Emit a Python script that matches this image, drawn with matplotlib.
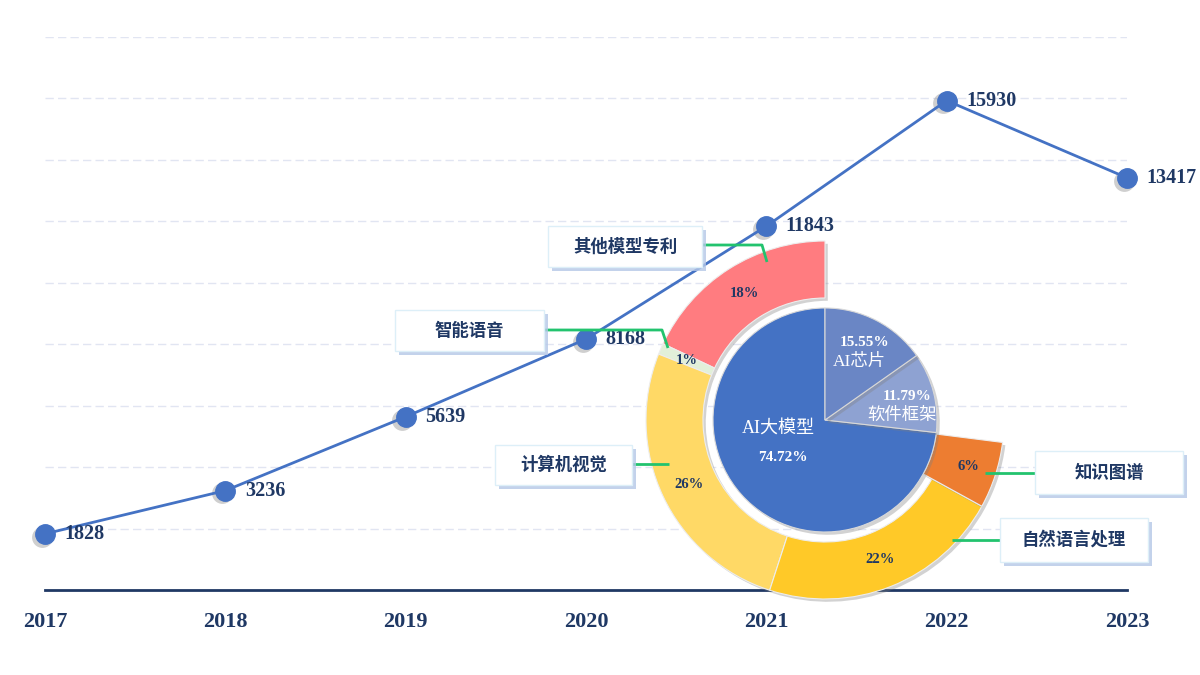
import numpy as np
import matplotlib.pyplot as plt
import matplotlib.patheffects as pe
from matplotlib.patches import Rectangle
from matplotlib.transforms import ScaledTranslation

years = [2017, 2018, 2019, 2020, 2021, 2022, 2023]
patents = [1828, 3236, 5639, 8168, 11843, 15930, 13417]

inner_labels = ['AI大模型', '软件框架', 'AI芯片']
inner_shares = [74.72, 11.79, 15.55]

outer_labels = ['其他模型专利', '智能语音', '计算机视觉', '自然语言处理', '知识图谱']
outer_shares = [18, 1, 26, 22, 6]

W, H = 1200, 675
NAVY = '#1F3864'
SERIF = ['Liberation Serif', 'Noto Sans CJK SC']
CJK = ['Noto Sans CJK SC', 'DejaVu Sans']

fig = plt.figure(figsize=(12, 6.75), dpi=100)

# ---- line chart ----
ax = fig.add_axes([45 / W, (H - 590) / H, (1127 - 45) / W, 553 / H])
ax.set_xlim(2017, 2023)
ax.set_ylim(0, 18000)
ax.set_yticks(range(2000, 18001, 2000))
ax.yaxis.grid(True, linestyle=(0, (6, 3)), color='#E1E5F2', lw=1)
ax.tick_params(axis='y', length=0, labelleft=False)
for s in ['top', 'right', 'left']:
    ax.spines[s].set_visible(False)
ax.spines['bottom'].set_color(NAVY)
ax.spines['bottom'].set_linewidth(2)
ax.set_xticks(years)
ax.set_xticklabels([str(y) for y in years], fontsize=16, fontweight='bold',
                   family=SERIF, color=NAVY)
ax.tick_params(axis='x', length=0, pad=16)

# soft marker shadows, shifted a little down-left
shift = ax.transData + ScaledTranslation(-2.5 / 72, -2 / 72, fig.dpi_scale_trans)
ax.plot(years, patents, ls='none', marker='o', ms=15, color='#777777', mew=0,
        alpha=0.35, transform=shift, clip_on=False, zorder=2)
ax.plot(years, patents, color='#4472C4', lw=2, marker='o', ms=14,
        clip_on=False, zorder=3)
for x, v in zip(years, patents):
    ax.annotate(str(v), (x, v), xytext=(14, 0), textcoords='offset points',
                va='center', ha='left', fontsize=14.5, fontweight='bold',
                family=SERIF, color=NAVY, annotation_clip=False, zorder=4)

# ---- overlay in pixel units ----
ov = fig.add_axes([0, 0, 1, 1])
cx, cy = 825, H - 420

shadow = [pe.SimplePatchShadow(offset=(2, -2), shadow_rgbFace='#7F7F7F', alpha=0.35), pe.Normal()]

outer_colors = ['#FF7C80', '#E2F0D9', '#FFD966', '#FFC928', '#ED7D31']
ow, otexts, oauto = ov.pie(np.array(outer_shares) / 100, normalize=False, startangle=90,
                           counterclock=True, radius=179, center=(cx, cy),
                           colors=outer_colors, autopct='%.0f%%', pctdistance=0.84,
                           wedgeprops=dict(width=57, edgecolor='#EDEDED', lw=0.8),
                           textprops=dict(fontsize=10.5, fontweight='bold',
                                          family=SERIF, color=NAVY))
ow[-1].set_width(67)
for w in ow:
    w.set_path_effects(shadow)

inner_colors = ['#4472C4', '#8EA2D2', '#6A86C5']
iw, _ = ov.pie(inner_shares, startangle=90, counterclock=True, radius=112,
               center=(cx, cy), colors=inner_colors,
               wedgeprops=dict(edgecolor='#D9D9D9', lw=0.8))
for w in iw:
    w.set_path_effects(shadow)

for w, name, val in zip(iw, inner_labels, inner_shares):
    mid = np.deg2rad((w.theta1 + w.theta2) / 2)
    if val > 50:
        px, py = cx + 57 * np.cos(mid), cy + 57 * np.sin(mid)
        ov.text(px, py, f'{val:.2f}%', ha='center', va='center', fontsize=11,
                fontweight='bold', family=SERIF, color='white')
        ov.text(px - 4, py + 30, name, ha='center', va='center', fontsize=13,
                family=SERIF, color='white')
    else:
        px, py = cx + 85 * np.cos(mid), cy + 85 * np.sin(mid)
        ov.text(px, py + 2, f'{val:.2f}%', ha='center', va='center', fontsize=11,
                fontweight='bold', family=SERIF, color='white')
        ov.text(px - 5, py - 17, name, ha='center', va='center', fontsize=12.5,
                family=SERIF, color='white')

# callout boxes (image px: x0, y0, x1, y1) and leader lines
boxes = {
    '其他模型专利': ((548, 226, 702, 267), [(702, 245), (762, 245), (767, 262)]),
    '智能语音': ((395, 310, 544, 351), [(544, 330), (662, 330), (668, 348)]),
    '计算机视觉': ((495, 445, 632, 485), [(632, 464), (669, 464)]),
    '知识图谱': ((1035, 451, 1183, 494), [(985, 473), (1035, 473)]),
    '自然语言处理': ((1000, 518, 1148, 562), [(952, 540), (1000, 540)]),
}
box_shadow = [pe.SimplePatchShadow(offset=(3, -3), shadow_rgbFace='#B4C7E7', alpha=0.8), pe.Normal()]
for name in outer_labels:
    (x0, y0, x1, y1), pts = boxes[name]
    xs = [p[0] for p in pts]
    ys = [H - p[1] for p in pts]
    ov.plot(xs, ys, color='#22C36E', lw=2, solid_capstyle='butt', zorder=5)
    r = Rectangle((x0, H - y1), x1 - x0, y1 - y0, facecolor='white',
                  edgecolor='#DDEFF8', lw=1, zorder=6)
    r.set_path_effects(box_shadow)
    ov.add_patch(r)
    ov.text((x0 + x1) / 2, H - (y0 + y1) / 2, name, ha='center', va='center',
            fontsize=12.5, fontweight='bold', family=CJK, color=NAVY, zorder=7)

ov.set_xlim(0, W)
ov.set_ylim(0, H)
ov.axis('off')

plt.savefig('out.png', dpi=100)
